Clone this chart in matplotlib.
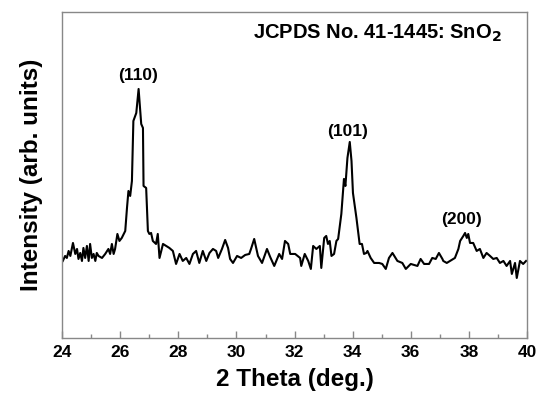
import matplotlib
matplotlib.use("Agg")
import matplotlib.pyplot as plt
from matplotlib.ticker import MultipleLocator

plt.rcParams["font.family"] = ["Liberation Sans", "DejaVu Sans"]
plt.rcParams["font.weight"] = "bold"

# XRD pattern (2 theta in deg., intensity in arb. units)
two_theta = [
    24.02, 24.10, 24.16, 24.22, 24.28, 24.37, 24.45, 24.51, 24.56, 24.62,
    24.68, 24.73, 24.79, 24.85, 24.91, 24.96, 25.02, 25.08, 25.14, 25.19,
    25.25, 25.37, 25.48, 25.59, 25.65, 25.71, 25.77, 25.82, 25.90, 25.97,
    26.05, 26.17, 26.23, 26.28, 26.34, 26.40, 26.45, 26.55, 26.63, 26.72,
    26.78, 26.80, 26.89, 26.95, 27.00, 27.06, 27.12, 27.23, 27.29, 27.35,
    27.47, 27.58, 27.69, 27.81, 27.92, 28.04, 28.15, 28.27, 28.38, 28.50,
    28.61, 28.72, 28.84, 28.96, 29.07, 29.19, 29.30, 29.37, 29.50, 29.61,
    29.71, 29.78, 29.88, 30.02, 30.16, 30.30, 30.44, 30.50, 30.61, 30.74,
    30.88, 30.99, 31.05, 31.16, 31.30, 31.47, 31.57, 31.67, 31.78, 31.85,
    32.02, 32.19, 32.23, 32.35, 32.47, 32.56, 32.64, 32.75, 32.87, 32.92,
    33.02, 33.09, 33.15, 33.21, 33.27, 33.36, 33.44, 33.50, 33.61, 33.70,
    33.75, 33.82, 33.90, 33.96, 34.01, 34.13, 34.24, 34.32, 34.39, 34.47,
    34.51, 34.62, 34.74, 34.91, 35.02, 35.14, 35.25, 35.37, 35.54, 35.71,
    35.83, 36.00, 36.23, 36.34, 36.46, 36.63, 36.74, 36.86, 36.97, 37.09,
    37.12, 37.24, 37.35, 37.52, 37.64, 37.70, 37.81, 37.87, 37.93, 37.98,
    38.04, 38.15, 38.27, 38.38, 38.50, 38.61, 38.73, 38.84, 38.96, 39.07,
    39.19, 39.30, 39.42, 39.48, 39.59, 39.65, 39.76, 39.87, 39.97,
]
intensity = [
    77, 82, 80, 87, 82, 95, 84, 89, 79, 85,
    77, 90, 80, 92, 77, 94, 80, 84, 77, 85,
    82, 80, 84, 89, 84, 94, 84, 89, 104, 97,
    100, 107, 130, 147, 142, 157, 217, 225, 249, 214,
    210, 152, 150, 107, 104, 105, 97, 94, 104, 80,
    94, 92, 90, 87, 74, 84, 77, 80, 74, 84,
    87, 75, 87, 77, 85, 89, 87, 80, 89, 98,
    90, 79, 75, 82, 80, 83, 84, 89, 99, 82,
    75, 84, 89, 81, 72, 84, 79, 97, 94, 84,
    84, 80, 72, 84, 77, 69, 92, 89, 92, 70,
    100, 102, 94, 97, 82, 84, 97, 99, 124, 159,
    152, 180, 196, 177, 145, 120, 94, 94, 84, 85,
    87, 80, 75, 75, 74, 69, 80, 85, 77, 75,
    69, 74, 72, 79, 74, 74, 80, 79, 85, 79,
    77, 75, 77, 80, 89, 97, 102, 105, 100, 104,
    95, 95, 87, 89, 80, 85, 82, 79, 80, 75,
    77, 72, 77, 64, 75, 60, 77, 74, 77,
]

peak_labels = ["(110)", "(101)", "(200)"]
peak_pos = [26.6, 33.84, 37.76]
peak_label_y = [262, 206, 118]

fig = plt.figure(figsize=(5.41, 3.99), dpi=100)
ax = fig.add_axes([0.115, 0.153, 0.859, 0.817])

ax.plot(two_theta, intensity, color="black", linewidth=1.5)

for lab, x, y in zip(peak_labels, peak_pos, peak_label_y):
    ax.text(x, y, lab, ha="center", va="center", fontsize=12.5, fontweight="bold")

ax.text(0.945, 0.935, "JCPDS No. 41-1445: SnO$_\\mathbf{2}$", transform=ax.transAxes,
        ha="right", va="center", fontsize=14.5, fontweight="bold")

ax.set_xlim(24, 40)
ax.set_ylim(0, 326)
ax.xaxis.set_major_locator(MultipleLocator(2))
ax.xaxis.set_minor_locator(MultipleLocator(1))
ax.tick_params(axis="x", which="major", direction="in", length=5, width=1,
               color="#888888", labelsize=12.5, pad=5)
ax.tick_params(axis="x", which="minor", direction="in", length=3, width=1,
               color="#888888")
ax.set_yticks([])
for lbl in ax.get_xticklabels():
    lbl.set_fontweight("bold")

for sp in ax.spines.values():
    sp.set_color("#888888")
    sp.set_linewidth(1)

ax.set_xlabel("2 Theta (deg.)", fontsize=17.5, fontweight="bold", labelpad=6)
ax.set_ylabel("Intensity (arb. units)", fontsize=17.5, fontweight="bold", labelpad=14)

fig.savefig("out.png", dpi=100)
